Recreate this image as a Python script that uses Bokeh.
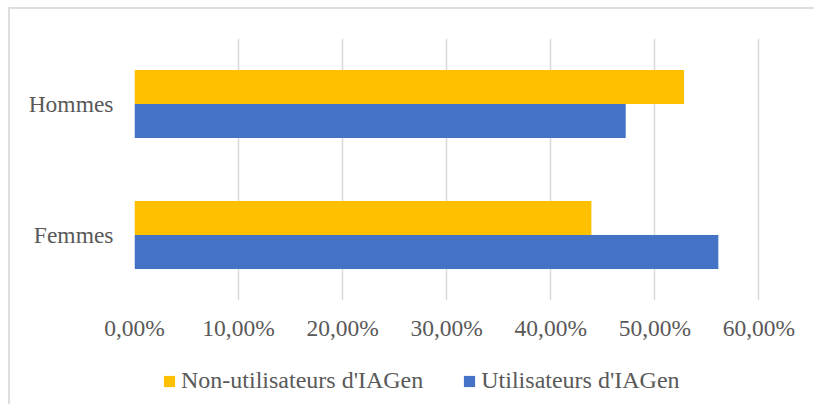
from bokeh.plotting import figure
from bokeh.layouts import column
from bokeh.models import (ColumnDataSource, FactorRange, Range1d, FixedTicker,
                          CustomJSTickFormatter, Legend, LegendItem)
from bokeh.transform import dodge
from bokeh.embed import file_html
from bokeh.resources import INLINE

categories = ["Femmes", "Hommes"]
non_utilisateurs = [0.439, 0.528]
utilisateurs = [0.561, 0.472]
series_names = ["Non-utilisateurs d'IAGen", "Utilisateurs d'IAGen"]
tick_values = [0.0, 0.1, 0.2, 0.3, 0.4, 0.5, 0.6]

FONT = "Liberation Serif"
FS = "23.5px"
TEXT = "#595959"
GRID = "#D9D9D9"
YELLOW = "#FFC000"
BLUE = "#4472C4"

source = ColumnDataSource(dict(cat=categories, non=non_utilisateurs, uti=utilisateurs))

p = figure(width=804, height=336, output_backend="svg", toolbar_location=None,
           y_range=FactorRange(factors=categories), x_range=Range1d(0, 0.6015),
           min_border_left=124, min_border_top=29, min_border_right=54,
           min_border_bottom=45)
p.outline_line_color = None

r1 = p.hbar(y=dodge("cat", 0.13, range=p.y_range), left=0, right="non", height=0.26,
            source=source, fill_color=YELLOW, line_color=None)
r2 = p.hbar(y=dodge("cat", -0.13, range=p.y_range), left=0, right="uti", height=0.26,
            source=source, fill_color=BLUE, line_color=None)

p.xaxis.ticker = FixedTicker(ticks=tick_values)
p.xaxis.formatter = CustomJSTickFormatter(
    code="return (tick*100).toFixed(2).replace('.', ',') + '%';")
for ax in (p.xaxis, p.yaxis):
    ax.axis_line_color = None
    ax.major_tick_line_color = None
    ax.minor_tick_line_color = None
    ax.major_tick_out = 0
    ax.major_tick_in = 0
    ax.major_label_text_font = FONT
    ax.major_label_text_font_size = FS
    ax.major_label_text_color = TEXT
p.xaxis.major_label_standoff = 14
p.yaxis.major_label_standoff = 21

p.xgrid.grid_line_color = GRID
p.xgrid.grid_line_width = 1.5
p.xgrid.ticker = FixedTicker(ticks=tick_values)
p.ygrid.grid_line_color = None

# legend strip below the chart (its frame is aligned with the chart's frame)
lg = figure(width=804, height=59, output_backend="svg", toolbar_location=None,
            x_range=Range1d(0, 1), y_range=Range1d(0, 1),
            min_border_left=0, min_border_right=0, min_border_top=0, min_border_bottom=0)
lg.axis.visible = False
lg.grid.visible = False
lg.outline_line_color = None
offscreen = ColumnDataSource(dict(y=[-5], right=[1]))
g1 = lg.hbar(y="y", right="right", height=0.5, source=offscreen,
             fill_color=YELLOW, line_color=None)
g2 = lg.hbar(y="y", right="right", height=0.5, source=offscreen,
             fill_color=BLUE, line_color=None)

legend = Legend(items=[LegendItem(label=series_names[0], renderers=[g1]),
                       LegendItem(label=series_names[1], renderers=[g2])],
                orientation="horizontal", location=(28, 10),
                label_text_font=FONT, label_text_font_size="24px",
                label_text_color=TEXT, glyph_width=14, glyph_height=14,
                label_standoff=5, spacing=39, border_line_color=None,
                background_fill_alpha=0, padding=0, margin=0)
lg.add_layout(legend, "center")

layout = column(p, lg, spacing=0)
layout.styles = {"border-top": "2px solid #DEDEDE", "border-left": "2px solid #DEDEDE",
                 "margin-left": "8px", "margin-top": "7px"}

open("out.html", "w").write(file_html(layout, INLINE))
